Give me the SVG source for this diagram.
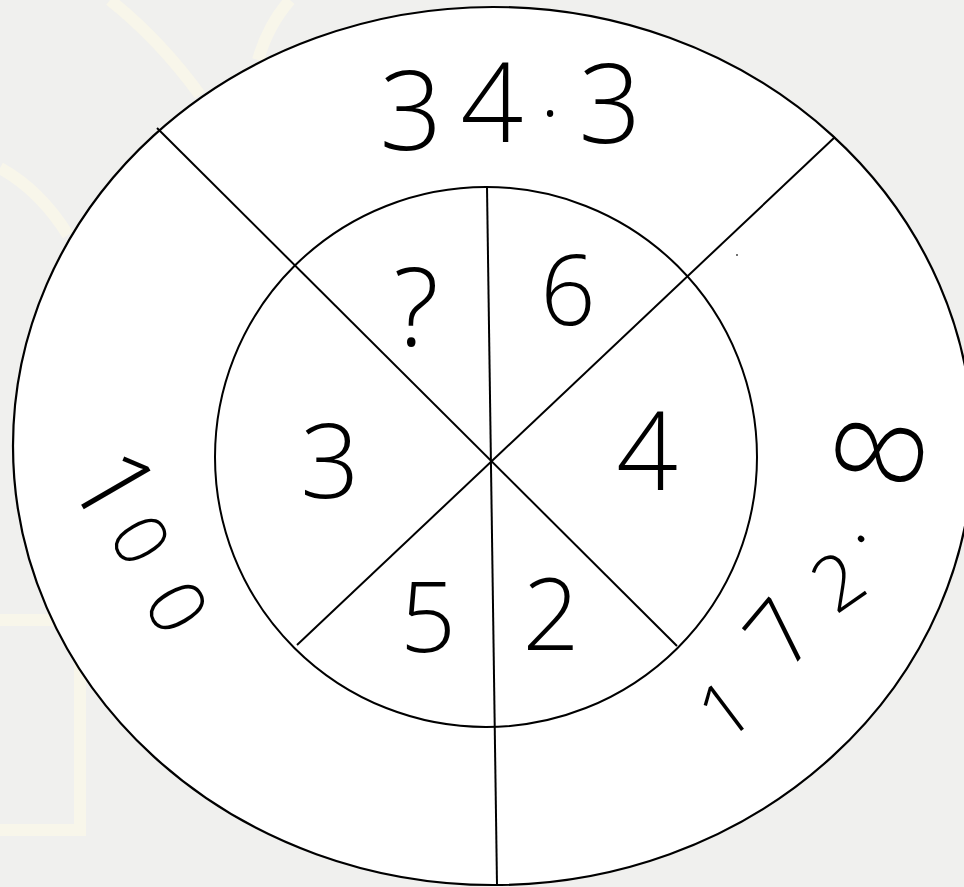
<svg xmlns="http://www.w3.org/2000/svg" width="964" height="887" viewBox="0 0 964 887">
<style>
.ring{fill:#ffffff;stroke:#000;stroke-width:2.2}
.inner{fill:none;stroke:#000;stroke-width:2}
.div{stroke:#000;stroke-width:2;fill:none}
.hw{font-family:"Open Sans","Noto Sans","Liberation Sans",sans-serif;font-weight:300;fill:#000;text-anchor:middle}
.wm{fill:none;stroke:#f8f6ea;stroke-width:12}
</style>
<rect width="964" height="887" fill="#f0f0ee"/>
<g id="watermark">
<path class="wm" d="M110,0 Q160,40 200,95"/>
<path class="wm" d="M290,0 Q268,25 258,60"/>
<path class="wm" d="M0,168 Q40,190 68,235"/>
<path class="wm" d="M0,620 H80 V830 H0"/>
</g>
<g id="outer-ring">
<ellipse class="ring" cx="493" cy="446" rx="480" ry="439"/>
</g>
<g id="inner-circle">
<ellipse class="inner" cx="486" cy="457" rx="271" ry="270"/>
</g>
<g id="connectors">
<line class="div" x1="487" y1="187" x2="497" y2="885"/>
<line class="div" x1="157" y1="128" x2="677" y2="646"/>
<line class="div" x1="835" y1="137" x2="297" y2="645"/>
</g>
<g id="top-value">
<text class="hw" font-size="110" y="150"><tspan x="411">3</tspan><tspan x="492" y="142">4</tspan><tspan x="550" y="140" font-size="80">·</tspan><tspan x="610" y="143">3</tspan></text>
</g>
<g id="inner-values">
<g id="q"><text class="hw" x="416" y="346" font-size="108">?</text></g>
<g id="v6"><text class="hw" x="568" y="325" font-size="97">6</text></g>
<g id="v3"><text class="hw" x="330" y="498" font-size="104">3</text></g>
<g id="v4"><text class="hw" x="647" y="490" font-size="108">4</text></g>
<g id="v5"><text class="hw" x="428" y="652" font-size="98">5</text></g>
<g id="v2"><text class="hw" x="551" y="650" font-size="100">2</text></g>
</g>
<g id="left-value">
<text class="hw" font-size="108" transform="translate(117,491) rotate(60)" y="38" x="-6">1</text>
<text class="hw" font-size="74" transform="translate(140,540) rotate(60)" y="26">0</text>
<text class="hw" font-size="78" transform="translate(177,607) rotate(60)" y="28">0</text>
</g>
<g id="right-value">
<text class="hw" font-size="76" transform="translate(728,707) rotate(-37)" y="27" x="-4">1</text>
<text class="hw" font-size="90" transform="translate(780,633) rotate(-50)" y="32">7</text>
<text class="hw" font-size="76" transform="translate(838,581) rotate(-35)" y="27">2</text>
<text class="hw" font-size="76" transform="translate(860,538) rotate(-50)" y="4">.</text>
<text class="hw" font-size="120" transform="translate(879,451) rotate(-80)" y="43">8</text>
</g>
<circle cx="737" cy="255" r="1" fill="#444"/>
</svg>
